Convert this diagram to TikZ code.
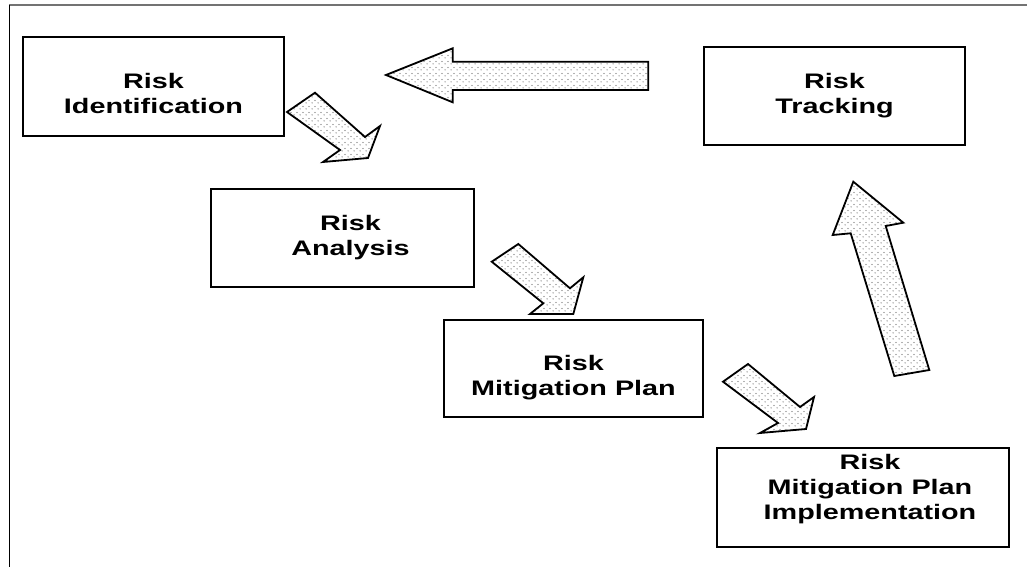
\documentclass[tikz,border=0pt]{standalone}
\usepackage{fontspec}
\setmainfont{Liberation Sans}
\usepackage{graphicx}
\usetikzlibrary{patterns.meta}

% light stippled fill for the block arrows
\tikzdeclarepattern{
  name=stipple,
  type=uncolored,
  bounding box={(0pt,0pt) and (3.2pt,3.2pt)},
  tile size={(3.2pt,3.2pt)},
  code={
    \fill (0.6pt,0.6pt) circle (0.33pt);
    \fill (2.2pt,1.9pt) circle (0.33pt);
  }
}

% wide bold caption on centred lines; the optional argument moves it up or down
% without changing the room it takes in its box
\newcommand\boxtext[2][0pt]{%
  \raisebox{#1}[\height][\depth]{%
    \scalebox{1.37}[1]{\begin{tabular}{@{}c@{}}#2\end{tabular}}}}

\begin{document}
\begin{tikzpicture}[x=0.5pt,y=-0.5pt,
  stagebox/.style={draw, line width=0.9pt, inner sep=0pt,
    font=\fontsize{10.5}{12.5}\selectfont\bfseries},
  blockarrow/.style={draw, line width=0.9pt, line join=miter,
    pattern=stipple, pattern color=black!60}]
\useasboundingbox (0,0) rectangle (1027,567);
\fill[white] (0,0) rectangle (1027,567);

% frame edges
\draw[black!55, line width=1pt] (9,5) -- (1027,5);
\draw[line width=0.8pt] (9.5,5) -- (9.5,567);

% process stages
\node[stagebox, minimum width=130.5pt, minimum height=49.5pt] (ident) at (153.5,86.5)
  {\boxtext[-4.75pt]{Risk\\Identification}};
\node[stagebox, minimum width=131.5pt, minimum height=49pt] (analysis) at (342.5,238)
  {\hspace{8pt}\boxtext{Risk\\Analysis}};
\node[stagebox, minimum width=129.5pt, minimum height=48.5pt] (plan) at (573.5,368.5)
  {\boxtext[-4.5pt]{Risk\\Mitigation Plan}};
\node[stagebox, minimum width=146pt, minimum height=49.5pt] (impl) at (863,497.5)
  {\hspace{7pt}\boxtext[4.25pt]{Risk\\Mitigation Plan\\Implementation}};
\node[stagebox, minimum width=130.5pt, minimum height=49pt] (tracking) at (834.5,96)
  {\boxtext{Risk\\Tracking}};

% block arrows between the stages
\path[blockarrow] (648.3,61.7) -- (452.7,61.7) -- (452.7,48.3) -- (386,75)
  -- (452.7,102.3) -- (452.7,90) -- (648.3,90) -- cycle;
\path[blockarrow] (315,92.7) -- (365,137) -- (380,126) -- (368,158)
  -- (323,162) -- (340,150) -- (287,112) -- cycle;
\path[blockarrow] (518.3,244) -- (570,288.3) -- (583.3,277.3) -- (573.3,314)
  -- (530,314) -- (543.3,303.3) -- (491.7,261.7) -- cycle;
\path[blockarrow] (748,364) -- (800,407) -- (814,397) -- (806,429)
  -- (760,433) -- (778,423) -- (723,381.7) -- cycle;
\path[blockarrow] (894.3,376) -- (850.7,233.3) -- (832.7,235) -- (853.3,181.7)
  -- (903.3,222.7) -- (885.7,226) -- (929.3,370) -- cycle;
\end{tikzpicture}
\end{document}
